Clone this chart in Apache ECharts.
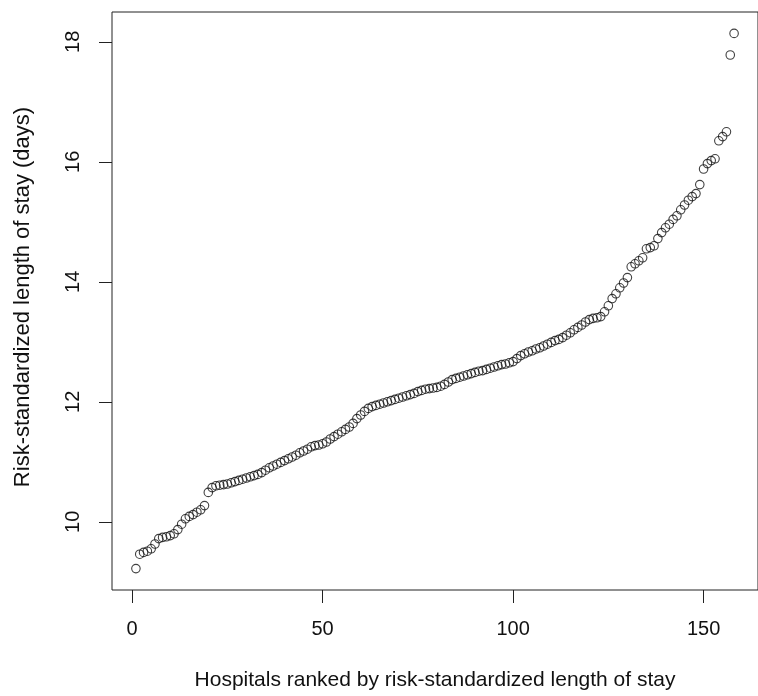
<!DOCTYPE html>
<html>
<head>
<meta charset="utf-8">
<script src="https://cdn.jsdelivr.net/npm/echarts@6/dist/echarts.min.js"></script>
<style>html,body{margin:0;padding:0;background:#fff}#c{width:758px;height:696px}</style>
</head>
<body>
<div id="c"></div>
<script>
// Risk-standardized length of stay (days), hospitals ranked 1..158
const losValues = [
  9.22, 9.46, 9.49, 9.51, 9.55, 9.63, 9.72, 9.74, 9.75, 9.77,
  9.80, 9.87, 9.96, 10.05, 10.09, 10.12, 10.16, 10.20, 10.27, 10.49,
  10.57, 10.60, 10.61, 10.62, 10.63, 10.65, 10.67, 10.69, 10.71, 10.73,
  10.75, 10.77, 10.79, 10.82, 10.86, 10.90, 10.93, 10.96, 10.99, 11.02,
  11.05, 11.08, 11.11, 11.15, 11.18, 11.21, 11.25, 11.27, 11.28, 11.30,
  11.33, 11.38, 11.42, 11.46, 11.50, 11.54, 11.58, 11.64, 11.72, 11.78,
  11.84, 11.89, 11.92, 11.94, 11.96, 11.98, 12.00, 12.02, 12.04, 12.06,
  12.08, 12.10, 12.12, 12.14, 12.17, 12.19, 12.21, 12.22, 12.23, 12.24,
  12.26, 12.29, 12.33, 12.37, 12.39, 12.41, 12.43, 12.45, 12.47, 12.49,
  12.51, 12.52, 12.54, 12.56, 12.58, 12.60, 12.62, 12.63, 12.65, 12.67,
  12.72, 12.77, 12.80, 12.83, 12.85, 12.88, 12.90, 12.93, 12.96, 12.99,
  13.02, 13.04, 13.07, 13.11, 13.15, 13.20, 13.24, 13.28, 13.33, 13.37,
  13.39, 13.40, 13.42, 13.50, 13.60, 13.72, 13.80, 13.90, 13.98, 14.07,
  14.25, 14.30, 14.35, 14.40, 14.55, 14.57, 14.60, 14.72, 14.82, 14.90,
  14.96, 15.04, 15.10, 15.20, 15.28, 15.36, 15.42, 15.47, 15.62, 15.88,
  15.97, 16.02, 16.05, 16.35, 16.42, 16.50, 17.78, 18.14
];
const ranks = losValues.map((v, i) => i + 1);
const xTicks = [0, 50, 100, 150];
const yTicks = [10, 12, 14, 16, 18];
const xTitle = 'Hospitals ranked by risk-standardized length of stay';
const yTitle = 'Risk-standardized length of stay (days)';

// R-style 4% axis extension
const xMin = 1 - 0.04 * (ranks.length - 1), xMax = ranks.length + 0.04 * (ranks.length - 1);
const yLo = Math.min(...losValues), yHi = Math.max(...losValues);
const yMin = yLo - 0.04 * (yHi - yLo), yMax = yHi + 0.04 * (yHi - yLo);

const font = 'Liberation Sans, Arial, sans-serif';
const chart = echarts.init(document.getElementById('c'), null, {renderer: 'canvas'});
chart.setOption({
  animation: false,
  backgroundColor: '#fff',
  grid: {left: 112, top: 12, width: 653, height: 580, show: true, borderColor: '#222', borderWidth: 1, backgroundColor: 'transparent'},
  xAxis: {
    type: 'value', min: xMin, max: xMax,
    name: xTitle, nameLocation: 'middle', nameGap: 80,
    nameTextStyle: {fontFamily: font, fontSize: 21, color: '#111'},
    axisLine: {show: false, onZero: false},
    splitLine: {show: false},
    axisTick: {show: true, inside: false, length: 13, lineStyle: {color: '#222', width: 1}, customValues: xTicks},
    axisLabel: {fontFamily: font, fontSize: 20, color: '#111', margin: 29, customValues: xTicks, formatter: v => String(v)}
  },
  yAxis: {
    type: 'value', min: yMin, max: yMax,
    name: yTitle, nameLocation: 'middle', nameGap: 78, nameRotate: 90,
    nameTextStyle: {fontFamily: font, fontSize: 22, color: '#111', padding: [0, 0, 0, 8]},
    axisLine: {show: false, onZero: false},
    splitLine: {show: false},
    axisTick: {show: true, inside: false, length: 13, lineStyle: {color: '#222', width: 1}, customValues: yTicks},
    axisLabel: {fontFamily: font, fontSize: 20, color: '#111', margin: 29, rotate: 90, customValues: yTicks, formatter: v => String(v)}
  },
  series: [{
    type: 'scatter',
    data: ranks.map((r, i) => [r, losValues[i]]),
    symbol: 'circle', symbolSize: 8.5,
    itemStyle: {color: 'rgba(0,0,0,0)', borderColor: '#111', borderWidth: 1.1},
    emphasis: {disabled: true}
  }]
});
</script>
</body>
</html>
